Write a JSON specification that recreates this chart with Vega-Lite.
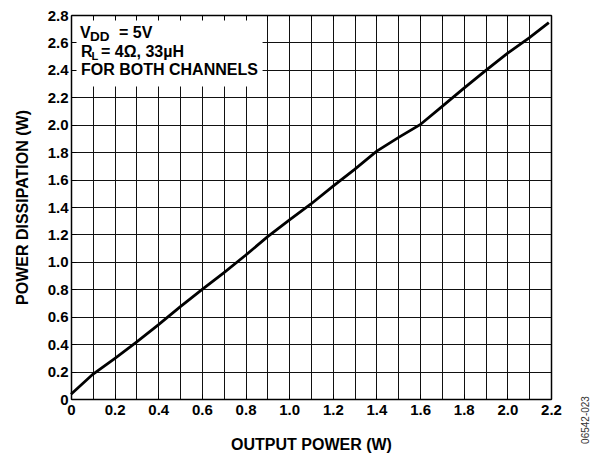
{
  "$schema": "https://vega.github.io/schema/vega-lite/v6.json",
  "width": 480,
  "height": 384,
  "autosize": {"type": "none"},
  "padding": {"left": 71, "top": 15, "right": 43, "bottom": 55},
  "background": "white",
  "config": {
    "view": {"stroke": null},
    "font": "Liberation Sans",
    "axis": {
      "labelFont": "Liberation Sans",
      "titleFont": "Liberation Sans",
      "labelFontWeight": "bold",
      "titleFontWeight": "bold",
      "labelColor": "black",
      "titleColor": "black",
      "labelFontSize": 15,
      "titleFontSize": 16
    }
  },
  "datasets": {
    "curve": [
      {"output": 0.0, "dissipation": 0.035},
      {"output": 0.1, "dissipation": 0.18},
      {"output": 0.2, "dissipation": 0.295},
      {"output": 0.3, "dissipation": 0.415},
      {"output": 0.4, "dissipation": 0.54},
      {"output": 0.5, "dissipation": 0.672},
      {"output": 0.6, "dissipation": 0.797},
      {"output": 0.7, "dissipation": 0.92},
      {"output": 0.8, "dissipation": 1.048},
      {"output": 0.9, "dissipation": 1.182},
      {"output": 1.0, "dissipation": 1.305},
      {"output": 1.1, "dissipation": 1.422},
      {"output": 1.2, "dissipation": 1.55},
      {"output": 1.3, "dissipation": 1.675},
      {"output": 1.4, "dissipation": 1.806},
      {"output": 1.5, "dissipation": 1.906},
      {"output": 1.6, "dissipation": 2.0},
      {"output": 1.7, "dissipation": 2.132},
      {"output": 1.8, "dissipation": 2.265},
      {"output": 1.9, "dissipation": 2.395},
      {"output": 2.0, "dissipation": 2.52},
      {"output": 2.1, "dissipation": 2.633},
      {"output": 2.19, "dissipation": 2.745}
    ],
    "one": [{}]
  },
  "layer": [
    {
      "data": {"name": "one"},
      "mark": {"type": "rect", "color": "white"},
      "encoding": {
        "x": {
          "datum": 0, "type": "quantitative",
          "scale": {"domain": [0, 2.2], "nice": false, "zero": false},
          "axis": {
            "orient": "bottom", "grid": true, "gridColor": "#111", "gridWidth": 1, "gridOpacity": 1,
            "values": [0,0.1,0.2,0.3,0.4,0.5,0.6,0.7,0.8,0.9,1.0,1.1,1.2,1.3,1.4,1.5,1.6,1.7,1.8,1.9,2.0,2.1,2.2],
            "labels": false, "ticks": false, "domain": false, "title": null, "zindex": 0
          }
        },
        "x2": {"datum": 0.878},
        "y": {
          "datum": 2.8, "type": "quantitative",
          "scale": {"domain": [0, 2.8], "nice": false, "zero": false},
          "axis": {
            "orient": "left", "grid": true, "gridColor": "#111", "gridWidth": 1, "gridOpacity": 1,
            "values": [0,0.2,0.4,0.6,0.8,1.0,1.2,1.4,1.6,1.8,2.0,2.2,2.4,2.6,2.8],
            "labels": false, "ticks": false, "domain": false, "title": null, "zindex": 0
          }
        },
        "y2": {"datum": 2.278}
      }
    },
    {
      "data": {"name": "curve"},
      "mark": {"type": "line", "color": "black", "strokeWidth": 2.8},
      "encoding": {
        "x": {
          "field": "output", "type": "quantitative",
          "axis": {
            "orient": "bottom", "grid": false, "zindex": 1,
            "values": [0,0.2,0.4,0.6,0.8,1.0,1.2,1.4,1.6,1.8,2.0,2.2],
            "labelExpr": "datum.value == 0 ? '0' : format(datum.value, '.1f')",
            "domain": true, "domainColor": "black", "domainWidth": 1.5,
            "ticks": true, "tickSize": -5, "tickColor": "black", "tickWidth": 1,
            "labelPadding": 8, "labelFlush": false,
            "title": "OUTPUT POWER (W)", "titlePadding": 19
          }
        },
        "y": {
          "field": "dissipation", "type": "quantitative",
          "axis": {
            "orient": "left", "grid": false, "zindex": 1,
            "values": [0,0.2,0.4,0.6,0.8,1.0,1.2,1.4,1.6,1.8,2.0,2.2,2.4,2.6,2.8],
            "labelExpr": "datum.value == 0 ? '0' : format(datum.value, '.1f')",
            "domain": true, "domainColor": "black", "domainWidth": 1.5,
            "ticks": true, "tickSize": -5, "tickColor": "black", "tickWidth": 1,
            "labelPadding": 8, "labelFlush": false,
            "title": "POWER DISSIPATION (W)", "titlePadding": 17
          }
        }
      }
    },
    {
      "data": {"name": "one"},
      "mark": {"type": "text", "text": "V", "align": "left", "baseline": "alphabetic", "dx": 9, "fontSize": 16, "fontWeight": "bold", "color": "black"},
      "encoding": {
        "x": {
          "datum": 0, "type": "quantitative",
          "axis": {
            "orient": "top", "grid": false, "zindex": 1,
            "values": [0,0.1,0.2,0.3,0.4,0.5,0.6,0.7,0.8,0.9,1.0,1.1,1.2,1.3,1.4,1.5,1.6,1.7,1.8,1.9,2.0,2.1,2.2],
            "labels": false, "title": null,
            "domain": true, "domainColor": "black", "domainWidth": 1.5,
            "ticks": true, "tickSize": -5, "tickColor": "black", "tickWidth": 1
          }
        },
        "y": {
          "datum": 2.635, "type": "quantitative",
          "axis": {
            "orient": "right", "grid": false, "zindex": 1,
            "labels": false, "title": null, "ticks": false,
            "domain": true, "domainColor": "black", "domainWidth": 1.5
          }
        }
      }
    },
    {
      "data": {"name": "one"},
      "mark": {"type": "text", "text": "DD", "align": "left", "baseline": "alphabetic", "dx": 19, "dy": 3, "fontSize": 13.5, "fontWeight": "bold", "color": "black"},
      "encoding": {
        "x": {"datum": 0, "type": "quantitative", "axis": null},
        "y": {"datum": 2.635, "type": "quantitative", "axis": null}
      }
    },
    {
      "data": {"name": "one"},
      "mark": {"type": "text", "text": "= 5V", "align": "left", "baseline": "alphabetic", "dx": 48, "fontSize": 16, "fontWeight": "bold", "color": "black"},
      "encoding": {
        "x": {"datum": 0, "type": "quantitative", "axis": null},
        "y": {"datum": 2.635, "type": "quantitative", "axis": null}
      }
    },
    {
      "data": {"name": "one"},
      "mark": {"type": "text", "text": "R", "align": "left", "baseline": "alphabetic", "dx": 10, "fontSize": 16, "fontWeight": "bold", "color": "black"},
      "encoding": {
        "x": {"datum": 0, "type": "quantitative", "axis": null},
        "y": {"datum": 2.494, "type": "quantitative", "axis": null}
      }
    },
    {
      "data": {"name": "one"},
      "mark": {"type": "text", "text": "L", "align": "left", "baseline": "alphabetic", "dx": 20.5, "dy": 3, "fontSize": 11, "fontWeight": "bold", "color": "black"},
      "encoding": {
        "x": {"datum": 0, "type": "quantitative", "axis": null},
        "y": {"datum": 2.494, "type": "quantitative", "axis": null}
      }
    },
    {
      "data": {"name": "one"},
      "mark": {"type": "text", "text": "= 4Ω, 33µH", "align": "left", "baseline": "alphabetic", "dx": 30, "fontSize": 16, "fontWeight": "bold", "color": "black"},
      "encoding": {
        "x": {"datum": 0, "type": "quantitative", "axis": null},
        "y": {"datum": 2.494, "type": "quantitative", "axis": null}
      }
    },
    {
      "data": {"name": "one"},
      "mark": {"type": "text", "text": "FOR BOTH CHANNELS", "align": "left", "baseline": "alphabetic", "dx": 10, "fontSize": 16, "fontWeight": "bold", "color": "black"},
      "encoding": {
        "x": {"datum": 0, "type": "quantitative", "axis": null},
        "y": {"datum": 2.365, "type": "quantitative", "axis": null}
      }
    },
    {
      "data": {"name": "one"},
      "mark": {"type": "text", "text": "06542-023", "align": "center", "baseline": "middle", "angle": 270, "dx": -21, "dy": 35, "fontSize": 10, "color": "#333"},
      "encoding": {
        "x": {"datum": 2.2, "type": "quantitative", "axis": null},
        "y": {"datum": 0, "type": "quantitative", "axis": null}
      }
    }
  ],
  "resolve": {"axis": {"x": "independent", "y": "independent"}}
}
